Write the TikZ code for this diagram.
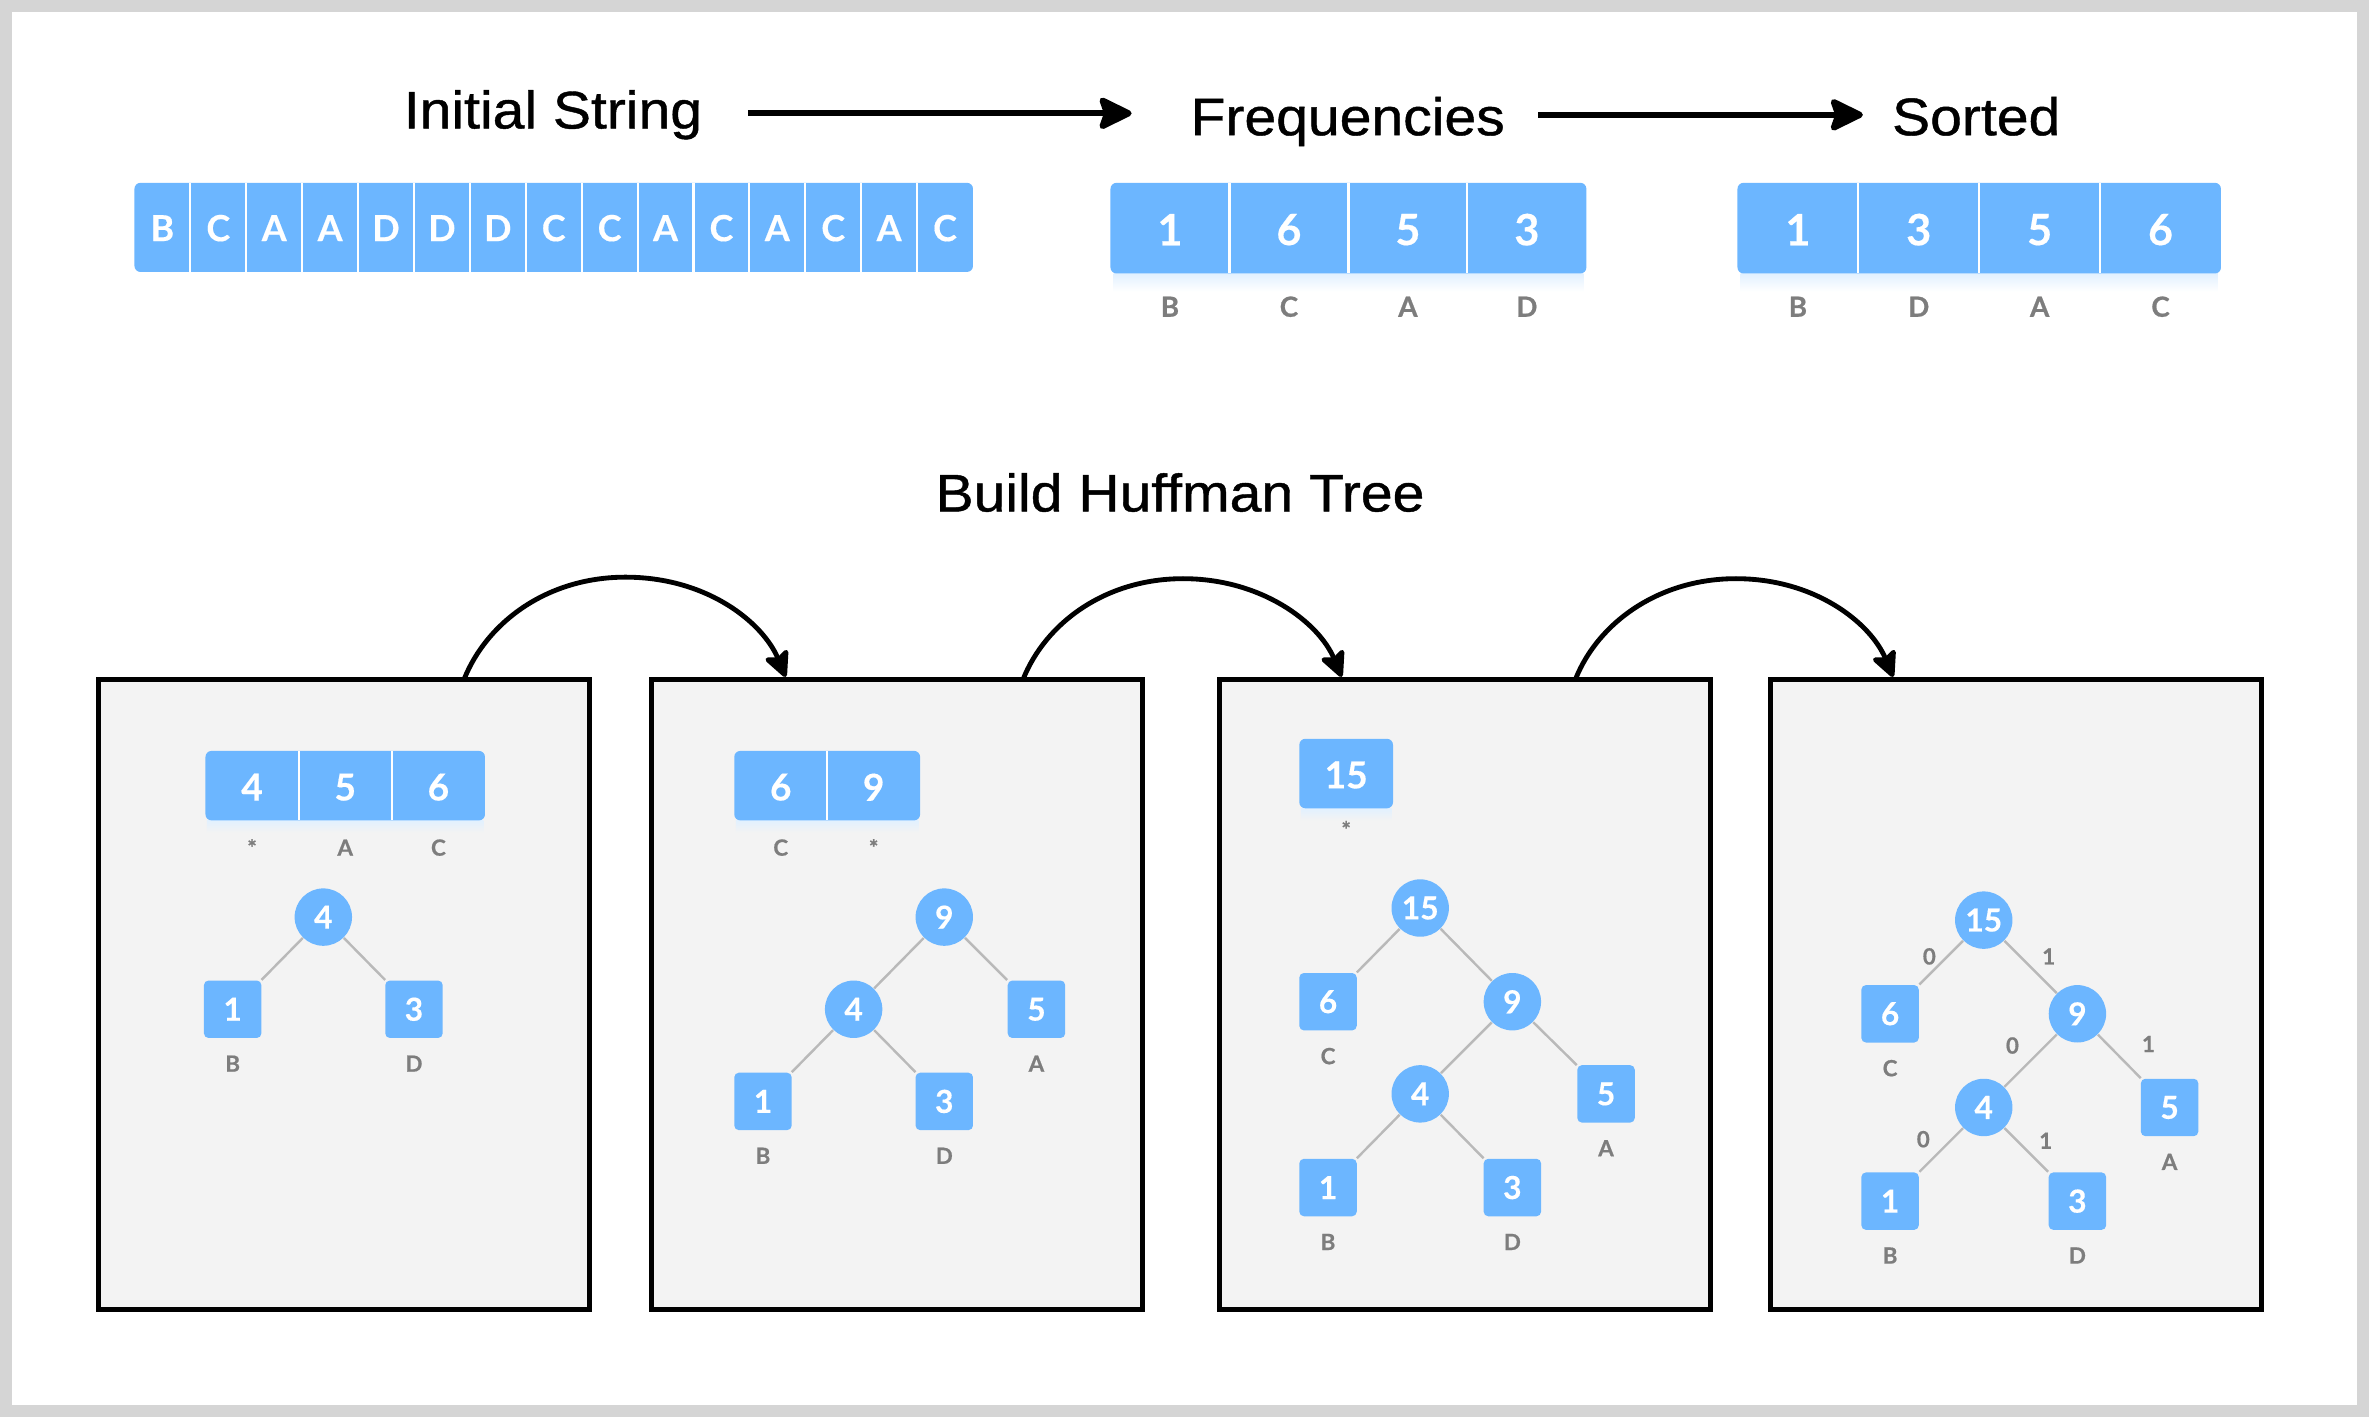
\documentclass[tikz,border=0pt]{standalone}
\usepackage{fontspec}
\setmainfont{Liberation Sans}
\newfontfamily\titlefont{Liberation Sans}[FakeStretch=1.08,FakeBold=0.8]
\newfontfamily\lato{Lato}[BoldFeatures={FakeBold=0.35}]
\newfontfamily\latolab{Lato}[BoldFeatures={FakeBold=0.7}]
\usetikzlibrary{arrows.meta,calc}
\definecolor{hblue}{RGB}{108,182,255}
\definecolor{hgray}{RGB}{125,125,125}
\definecolor{panelbg}{RGB}{243,243,243}
\definecolor{edgegray}{RGB}{185,185,185}
\definecolor{framegray}{RGB}{213,213,213}
\tikzset{
  titletxt/.style={font=\titlefont\fontsize{17.5}{20}\selectfont, inner sep=0pt, text=black, anchor=base},
  strip/.style={fill=hblue, rounded corners=2pt, inner sep=0pt, draw=none},
  sepline/.style={white, line width=0.7pt},
  lettxt/.style={text=white, inner sep=0pt, font=\lato\bfseries\fontsize{11.9}{13}\selectfont},
  bignum/.style={text=white, inner sep=0pt, font=\lato\bfseries\fontsize{14.3}{16}\selectfont},
  midnum/.style={text=white, inner sep=0pt, font=\lato\bfseries\fontsize{12.3}{14}\selectfont},
  toplab/.style={text=hgray, inner sep=0pt, font=\latolab\bfseries\fontsize{9.2}{11}\selectfont},
  lab/.style={text=hgray, inner sep=0pt, font=\latolab\bfseries\fontsize{7.4}{9}\selectfont},
  panel/.style={draw=black, fill=panelbg, line width=1.7pt, inner sep=0pt, minimum width=162.5pt, minimum height=208.5pt},
  circnode/.style={circle, fill=hblue, draw=none, minimum size=19pt, inner sep=0pt, text=white, font=\lato\bfseries\fontsize{10.5}{12}\selectfont},
  boxnode/.style={rectangle, rounded corners=1.5pt, fill=hblue, draw=none, minimum size=19pt, inner sep=0pt, text=white, font=\lato\bfseries\fontsize{10.5}{12}\selectfont},
  edge/.style={draw=edgegray, line width=0.8pt},
  toparrow/.style={line width=2pt, -{Stealth[length=12.5pt,width=12pt,inset=2pt,round]}},
  curvearrow/.style={line width=1.6pt, -{Stealth[length=10pt,width=9.5pt,inset=2pt,round]}},
  shadowbar/.style={top color=hblue!20, bottom color=white}
}
\begin{document}
\begin{tikzpicture}[x=0.5pt,y=-0.5pt]
\useasboundingbox (0,0) rectangle (1568,938);
\fill[framegray] (0,0) rectangle (1568,938);
\fill[white] (8,8) rectangle (1560,930);

% ---------- top titles ----------
\node[titletxt] (t1) at (366,85) {Initial String};
\node[titletxt] (t2) at (892,89.5) {Frequencies};
\node[titletxt] (t3) at (1308,89.5) {Sorted};
\coordinate (a1s) at (495,75);
\coordinate (a1e) at (749,75);
\coordinate (a2s) at (1018,76);
\coordinate (a2e) at (1233,76);
\draw[toparrow] (a1s) -- (a1e);
\draw[toparrow] (a2s) -- (a2e);

% ---------- initial string ----------
\node[strip, minimum width=277.5pt, minimum height=29.5pt] (s0) at (366.5,150.5) {};
\foreach \c [count=\i from 0] in {B,C,A,A,D,D,D,C,C,A,C,A,C,A,C}
  \node[lettxt] (l\i) at ({89+37*(\i+0.5)},151) {\c};
\foreach \i in {1,...,14}
  \draw[sepline] ({89+37*\i},121) -- ({89+37*\i},180);

% ---------- frequencies ----------
\shade[shadowbar] (737,181) rectangle (1048,193);
\node[strip, minimum width=157.5pt, minimum height=30pt] (sf) at (892.5,151) {};
\foreach \n/\c [count=\i from 0] in {1/B,6/C,5/A,3/D}{
  \node[bignum] (f\i) at ({735+78.75*(\i+0.5)},152) {\n};
  \node[toplab] (fl\i) at ({735+78.75*(\i+0.5)},203) {\c};
}
\foreach \i in {1,2,3}
  \draw[sepline] ({735+78.75*\i},121) -- ({735+78.75*\i},181);

% ---------- sorted ----------
\shade[shadowbar] (1152,181) rectangle (1468,193);
\node[strip, minimum width=160pt, minimum height=30pt] (ss) at (1310,151) {};
\foreach \n/\c [count=\i from 0] in {1/B,3/D,5/A,6/C}{
  \node[bignum] (o\i) at ({1150+80*(\i+0.5)},152) {\n};
  \node[toplab] (ol\i) at ({1150+80*(\i+0.5)},203) {\c};
}
\foreach \i in {1,2,3}
  \draw[sepline] ({1150+80*\i},121) -- ({1150+80*\i},181);

% ---------- build title ----------
\node[titletxt] (t4) at (781,338.5) {Build Huffman Tree};

% ---------- panels ----------
\node[panel] (p1) at (227.5,658.5) {};
\node[panel] (p2) at (593.5,658.5) {};
\node[panel] (p3) at (969.5,658) {};
\node[panel] (p4) at (1334.5,658.5) {};

% ---------- curved arrows ----------
\coordinate (c1s) at (307,450);
\coordinate (c1e) at (520,448);
\coordinate (c2s) at (677,450);
\coordinate (c2e) at (888,448);
\coordinate (c3s) at (1043,449);
\coordinate (c3e) at (1253,448);
\draw[curvearrow] (c1s) .. controls (322,412) and (362,382) .. (414,382) .. controls (468,382) and (505,412) .. (c1e);
\draw[curvearrow] (c2s) .. controls (692,412) and (732,383) .. (783,383) .. controls (835,383) and (873,412) .. (c2e);
\draw[curvearrow] (c3s) .. controls (1058,412) and (1098,383) .. (1149,383) .. controls (1201,383) and (1238,412) .. (c3e);

% ---------- panel 1 ----------
\shade[top color=hblue!20, bottom color=panelbg] (137,543) rectangle (320,551);
\node[strip, minimum width=92.5pt, minimum height=23pt] (q1) at (228.5,520) {};
\foreach \n/\c [count=\i from 0] in {4/*,5/A,6/C}{
  \node[midnum] (q1n\i) at ({136+61.67*(\i+0.5)},521) {\n};
  \node[lab] (q1l\i) at ({136+61.67*(\i+0.5)},561) {\c};
}
\foreach \i in {1,2}
  \draw[sepline] ({136+61.67*\i},497) -- ({136+61.67*\i},543);
\node[circnode] (a4) at (214,607) {4};
\node[boxnode] (a1) at (154,668) {1};
\node[boxnode] (a3) at (274,668) {3};
\node[lab] (a1l) at (154,704) {B};
\node[lab] (a3l) at (274,704) {D};
\draw[edge] (a4) -- (a1);
\draw[edge] (a4) -- (a3);

% ---------- panel 2 ----------
\shade[top color=hblue!20, bottom color=panelbg] (487,543) rectangle (608,551);
\node[strip, minimum width=61.5pt, minimum height=23pt] (q2) at (547.5,520) {};
\foreach \n/\c [count=\i from 0] in {6/C,9/*}{
  \node[midnum] (q2n\i) at ({486+61.5*(\i+0.5)},521) {\n};
  \node[lab] (q2l\i) at ({486+61.5*(\i+0.5)},561) {\c};
}
\draw[sepline] (547.5,497) -- (547.5,543);
\node[circnode] (b9) at (625,607) {9};
\node[circnode] (b4) at (565,668) {4};
\node[boxnode] (b5) at (686,668) {5};
\node[boxnode] (b1) at (505,729) {1};
\node[boxnode] (b3) at (625,729) {3};
\node[lab] (b5l) at (686,704) {A};
\node[lab] (b1l) at (505,765) {B};
\node[lab] (b3l) at (625,765) {D};
\draw[edge] (b9) -- (b4);
\draw[edge] (b9) -- (b5);
\draw[edge] (b4) -- (b1);
\draw[edge] (b4) -- (b3);

% ---------- panel 3 ----------
\shade[top color=hblue!20, bottom color=panelbg] (861,535) rectangle (921,543);
\node[strip, minimum width=31pt, minimum height=23pt] (q3) at (891,512) {};
\node[midnum] (q3n) at (891,513) {15};
\node[lab] (q3l) at (891,549) {*};
\node[circnode] (c15) at (940,601) {15};
\node[boxnode] (c6) at (879,663) {6};
\node[circnode] (c9) at (1001,663) {9};
\node[circnode] (c4) at (940,724) {4};
\node[boxnode] (c5) at (1063,724) {5};
\node[boxnode] (c1) at (879,786) {1};
\node[boxnode] (c3) at (1001,786) {3};
\node[lab] (c6l) at (879,699) {C};
\node[lab] (c5l) at (1063,760) {A};
\node[lab] (c1l) at (879,822) {B};
\node[lab] (c3l) at (1001,822) {D};
\draw[edge] (c15) -- (c6);
\draw[edge] (c15) -- (c9);
\draw[edge] (c9) -- (c4);
\draw[edge] (c9) -- (c5);
\draw[edge] (c4) -- (c1);
\draw[edge] (c4) -- (c3);

% ---------- panel 4 ----------
\node[circnode] (d15) at (1313,609) {15};
\node[boxnode] (d6) at (1251,671) {6};
\node[circnode] (d9) at (1375,671) {9};
\node[circnode] (d4) at (1313,733) {4};
\node[boxnode] (d5) at (1436,733) {5};
\node[boxnode] (d1) at (1251,795) {1};
\node[boxnode] (d3) at (1375,795) {3};
\node[lab] (d6l) at (1251,707) {C};
\node[lab] (d5l) at (1436,769) {A};
\node[lab] (d1l) at (1251,831) {B};
\node[lab] (d3l) at (1375,831) {D};
\draw[edge] (d15) -- (d6);
\draw[edge] (d15) -- (d9);
\draw[edge] (d9) -- (d4);
\draw[edge] (d9) -- (d5);
\draw[edge] (d4) -- (d1);
\draw[edge] (d4) -- (d3);
\node[lab] (e1) at (1277,633) {0};
\node[lab] (e2) at (1356,633) {1};
\node[lab] (e3) at (1332,692) {0};
\node[lab] (e4) at (1422,691) {1};
\node[lab] (e5) at (1273,754) {0};
\node[lab] (e6) at (1354,755) {1};
\end{tikzpicture}
\end{document}
